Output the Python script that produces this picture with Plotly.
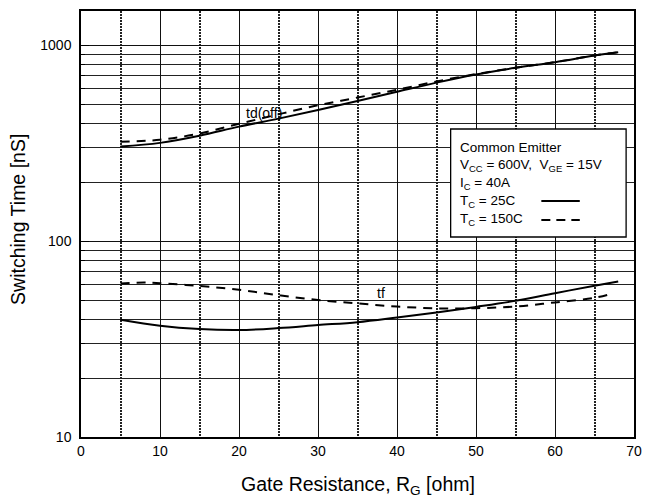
import numpy as np
import plotly.graph_objects as go

# ---- data ----
rg = [5, 10, 15, 20, 25, 30, 35, 40, 45, 50, 55, 60, 65, 68]
tdoff_25c = [305, 318, 346, 385, 423, 468, 520, 580, 646, 711, 769, 822, 889, 924]
tdoff_150c = [322, 330, 355, 398, 445, 495, 542, 594, 655, 714, 769, 822, 889, 924]

rg_tf25 = [5, 10, 15, 20, 25, 30, 35, 40, 45, 50, 55, 60, 65, 68]
tf_25c = [39.7, 37.0, 35.6, 35.2, 36.0, 37.3, 38.6, 40.8, 43.3, 46.2, 49.6, 54.3, 59.2, 62.3]
rg_tf150 = [5, 8, 10, 15, 20, 25, 30, 35, 40, 45, 50, 55, 60, 65, 67]
tf_150c = [60.8, 61.5, 61.0, 59.1, 56.5, 53.0, 50.1, 48.1, 46.4, 45.4, 45.5, 46.4, 48.7, 51.4, 53.7]

x_ticks = [0, 10, 20, 30, 40, 50, 60, 70]
x_minor = [5, 15, 25, 35, 45, 55, 65]
y_ticks = [10, 100, 1000]
y_ticktext = ["10", "100", "1000"]
y_minor = [20, 30, 40, 50, 60, 70, 80, 90, 200, 300, 400, 500, 600, 700, 800, 900]

legend_lines = [
    "Common Emitter",
    "V<sub>CC</sub> = 600V,\u00a0 V<sub>GE</sub> = 15V",
    "I<sub>C</sub> = 40A",
    "T<sub>C</sub> = 25C",
    "T<sub>C</sub> = 150C",
]
curve_labels = [("td(off)", 23.2, 453), ("tf", 38.0, 54.6)]

FONT = "Arial, Liberation Sans, sans-serif"
SOLID = dict(color="black", width=2, shape="spline")
DASH = dict(color="black", width=2, shape="spline", dash="9px,7px")

fig = go.Figure()
fig.add_trace(go.Scatter(x=rg, y=tdoff_25c, mode="lines", line=SOLID, showlegend=False))
fig.add_trace(go.Scatter(x=rg, y=tdoff_150c, mode="lines", line=DASH, showlegend=False))
fig.add_trace(go.Scatter(x=rg_tf25, y=tf_25c, mode="lines", line=SOLID, showlegend=False))
fig.add_trace(go.Scatter(x=rg_tf150, y=tf_150c, mode="lines", line=DASH, showlegend=False))

# plot area in pixels: x 81..642, y 11..437
L, R, T, B = 81, 9, 11, 63
W, H = 651, 500
pw, ph = W - L - R, H - T - B

def px(xpix):
    return (xpix - L) / pw

def py(ypix):
    return (H - B - ypix) / ph

fig.update_layout(
    width=W, height=H,
    margin=dict(l=L, r=R, t=T, b=B, pad=0),
    paper_bgcolor="white", plot_bgcolor="white",
    font=dict(family=FONT, color="black", size=14),
    showlegend=False,
)
fig.update_xaxes(
    range=[0, 70], tickmode="array", tickvals=x_ticks,
    showgrid=True, gridcolor="#111", gridwidth=1,
    minor=dict(tickmode="array", tickvals=x_minor, showgrid=True,
               gridcolor="#222", gridwidth=2, griddash="2px,1px"),
    showline=True, mirror=True, linecolor="black", linewidth=1.5,
    ticks="", zeroline=False, tickfont=dict(size=14),
)
fig.update_yaxes(
    type="log", range=[1, np.log10(1500)],
    tickmode="array", tickvals=y_ticks, ticktext=y_ticktext,
    showgrid=True, gridcolor="#111", gridwidth=1,
    ticks="inside", ticklen=8, tickcolor="black", tickwidth=1.2,
    ticklabelstandoff=5,
    minor=dict(tickmode="array", tickvals=y_minor, showgrid=True,
               gridcolor="#222", gridwidth=1, ticks="inside", ticklen=4,
               tickcolor="black"),
    showline=True, mirror=True, linecolor="black", linewidth=1.5,
    zeroline=False, tickfont=dict(size=14),
)

annotations = []
# axis titles
annotations.append(dict(text="Gate Resistance, R<sub>G</sub> [ohm]", xref="paper", yref="paper",
                        x=0.5, y=py(485), xanchor="center", yanchor="middle",
                        showarrow=False, font=dict(size=19.5)))
annotations.append(dict(text="Switching Time [nS]", xref="paper", yref="paper",
                        x=px(17), y=py(219), xanchor="center", yanchor="middle",
                        textangle=-90, showarrow=False, font=dict(size=19.5)))
# curve labels
for txt, xv, yv in curve_labels:
    annotations.append(dict(text=txt, x=xv, y=np.log10(yv), xref="x", yref="y",
                            showarrow=False, font=dict(size=14)))
# legend text
legend_y = [147.5, 165, 183, 201, 219]
for txt, yy in zip(legend_lines, legend_y):
    annotations.append(dict(text=txt, xref="paper", yref="paper", x=px(463), y=py(yy),
                            xanchor="left", yanchor="middle", showarrow=False,
                            font=dict(size=13.5)))
fig.update_layout(annotations=annotations)

# legend box and line samples
shapes = [
    dict(type="rect", xref="paper", yref="paper", x0=px(456), x1=px(634), y0=py(237), y1=py(129),
         line=dict(color="black", width=1.3), fillcolor="white", layer="above"),
    dict(type="line", xref="paper", yref="paper", x0=px(548), x1=px(587), y0=py(201), y1=py(201),
         line=dict(color="black", width=2)),
    dict(type="line", xref="paper", yref="paper", x0=px(548), x1=px(587), y0=py(220), y1=py(220),
         line=dict(color="black", width=2, dash="9px,6px")),
]
fig.update_layout(shapes=shapes)

fig.write_html("out.html", config={"displayModeBar": False},
               post_script="document.body.style.margin='0';document.body.style.padding='0';")
